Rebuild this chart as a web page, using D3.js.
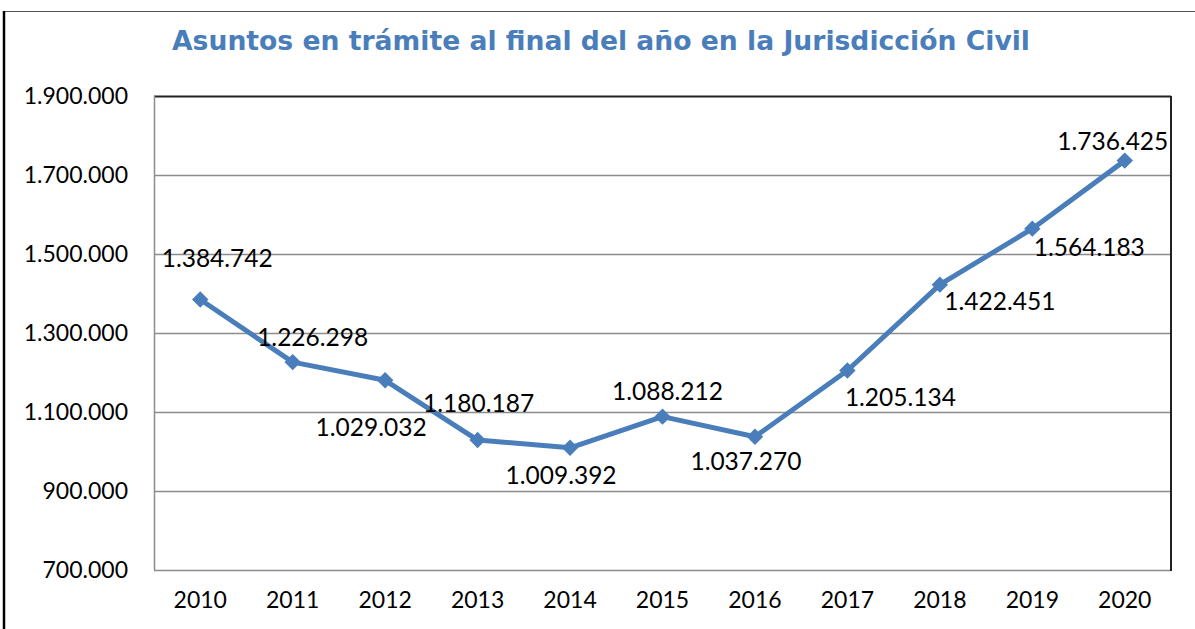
<!DOCTYPE html>
<html>
<head>
<meta charset="utf-8">
<script src="https://cdn.jsdelivr.net/npm/d3@7/dist/d3.min.js"></script>
<style>
  html, body { margin: 0; padding: 0; background: #fff; }
  svg { display: block; }
</style>
</head>
<body>
<div id="chart"></div>
<script>
// data
var years = ["2010", "2011", "2012", "2013", "2014", "2015", "2016", "2017", "2018", "2019", "2020"];
var values = [1384742, 1226298, 1180187, 1029032, 1009392, 1088212, 1037270, 1205134, 1422451, 1564183, 1736425];
// labels as they appear next to each point (2012 and 2013 swapped in the original)
var pointLabels = ["1.384.742", "1.226.298", "1.029.032", "1.180.187", "1.009.392", "1.088.212",
                   "1.037.270", "1.205.134", "1.422.451", "1.564.183", "1.736.425"];
var yTicks = [700000, 900000, 1100000, 1300000, 1500000, 1700000, 1900000];
var title = "Asuntos en trámite al final del año en la Jurisdicción Civil";

// label placement relative to its point (dx, dy)
var labelOffsets = [[17, -42], [20, -26], [-14, 46], [1, -38], [-9, 27], [5, -26],
                    [-9, 24], [53, 26], [60, 16], [57, 18], [-12, -20]];

var width = 1195, height = 629;
var plot = { left: 154, right: 1171, top: 96, bottom: 570 };
var blue = "#4a7ebb";
var fontFam = "Lato, 'Open Sans', sans-serif";

var svg = d3.select("#chart").append("svg")
  .attr("width", width)
  .attr("height", height);

// outer frame bits
svg.append("line")
  .attr("x1", 3).attr("x2", width).attr("y1", 11.5).attr("y2", 11.5)
  .attr("stroke", "#555").attr("stroke-width", 1);
svg.append("line")
  .attr("x1", 4).attr("x2", 4).attr("y1", 11).attr("y2", height)
  .attr("stroke", "#000").attr("stroke-width", 2.5);

// title
svg.append("text")
  .attr("x", 601).attr("y", 50)
  .attr("text-anchor", "middle")
  .attr("textLength", 858)
  .attr("lengthAdjust", "spacingAndGlyphs")
  .style("font-family", "'DejaVu Sans', Verdana, sans-serif")
  .style("font-weight", "bold")
  .style("font-size", "26px")
  .style("fill", blue)
  .text(title);

var x = d3.scaleBand()
  .domain(years)
  .range([plot.left, plot.right]);

var y = d3.scaleLinear()
  .domain([700000, 1900000])
  .range([plot.bottom, plot.top]);

var fmt = function(d) {
  return d3.format(",")(d).replace(/,/g, ".");
};

// gridlines
svg.append("g")
  .selectAll("line")
  .data(yTicks)
  .enter()
  .append("line")
  .attr("x1", plot.left).attr("x2", plot.right)
  .attr("y1", function(d) { return Math.round(y(d)) + 0.5; })
  .attr("y2", function(d) { return Math.round(y(d)) + 0.5; })
  .attr("stroke", function(d) { return d === 1900000 ? "#222" : "#8c8c8c"; })
  .attr("stroke-width", function(d) { return d === 1900000 ? 2 : 1.5; });

// plot area sides
svg.append("line")
  .attr("x1", plot.left + 0.5).attr("x2", plot.left + 0.5)
  .attr("y1", plot.top).attr("y2", plot.bottom)
  .attr("stroke", "#8c8c8c").attr("stroke-width", 1.5);
svg.append("line")
  .attr("x1", plot.right).attr("x2", plot.right)
  .attr("y1", plot.top).attr("y2", plot.bottom + 1)
  .attr("stroke", "#222").attr("stroke-width", 2);

// y axis labels
var yAxis = d3.axisLeft(y)
  .tickValues(yTicks)
  .tickFormat(fmt)
  .tickSize(0)
  .tickPadding(26);

var gy = svg.append("g")
  .attr("transform", "translate(" + plot.left + ",0)")
  .call(yAxis);
gy.select(".domain").remove();
gy.selectAll("text")
  .style("font-family", fontFam)
  .style("font-size", "23px")
  .style("fill", "#000");

// x axis labels
var xAxis = d3.axisBottom(x).tickSize(0).tickPadding(22);
var gx = svg.append("g")
  .attr("transform", "translate(0," + plot.bottom + ")")
  .call(xAxis);
gx.select(".domain").remove();
gx.selectAll("text")
  .style("font-family", fontFam)
  .style("font-size", "23px")
  .style("fill", "#000");

var cx = function(d, i) { return x(years[i]) + x.bandwidth() / 2; };

// line
var line = d3.line()
  .x(function(d, i) { return cx(d, i); })
  .y(function(d) { return y(d); });

svg.append("path")
  .datum(values)
  .attr("d", line)
  .attr("fill", "none")
  .attr("stroke", blue)
  .attr("stroke-width", 5)
  .attr("stroke-linejoin", "round");

// diamond markers
svg.append("g")
  .selectAll("path")
  .data(values)
  .enter()
  .append("path")
  .attr("d", d3.symbol().type(d3.symbolSquare).size(135))
  .attr("transform", function(d, i) {
    return "translate(" + cx(d, i) + "," + y(d) + ") rotate(45)";
  })
  .attr("fill", blue);

// data labels
svg.append("g")
  .selectAll("text")
  .data(values)
  .enter()
  .append("text")
  .attr("x", function(d, i) { return cx(d, i) + labelOffsets[i][0]; })
  .attr("y", function(d, i) { return y(d) + labelOffsets[i][1]; })
  .attr("text-anchor", "middle")
  .attr("dominant-baseline", "central")
  .style("font-family", fontFam)
  .style("font-size", "24.5px")
  .style("fill", "#000")
  .text(function(d, i) { return pointLabels[i]; });
</script>
</body>
</html>
